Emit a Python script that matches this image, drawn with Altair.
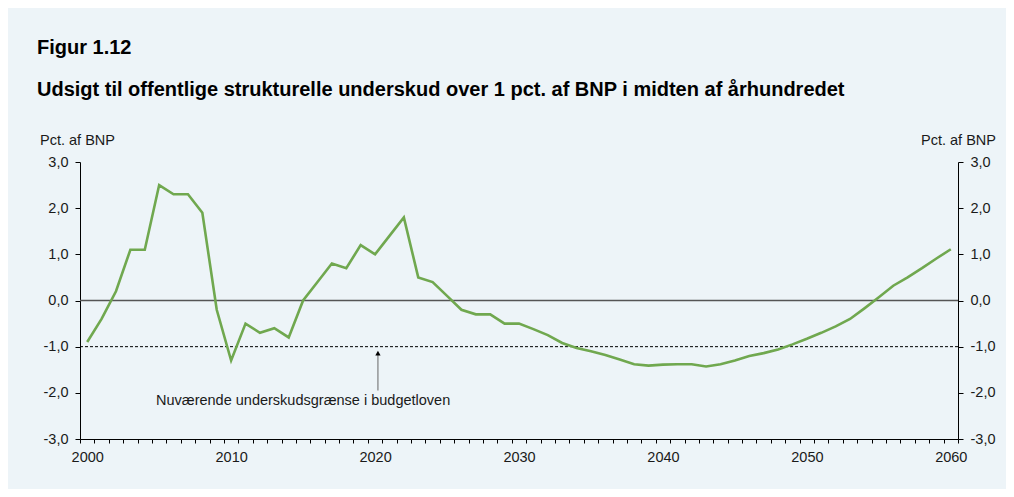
import altair as alt
import pandas as pd

years = list(range(2000, 2061))
values = [
    -0.9, -0.4, 0.2, 1.1, 1.1, 2.5, 2.3, 2.3, 1.9, -0.2,
    -1.3, -0.5, -0.7, -0.6, -0.8, 0.0, 0.4, 0.8, 0.7, 1.2,
    1.0, 1.4, 1.8, 0.5, 0.4, 0.1, -0.2, -0.3, -0.3, -0.5,
    -0.5, -0.62, -0.75, -0.92, -1.03, -1.1, -1.18, -1.28, -1.38, -1.41,
    -1.39, -1.38, -1.38, -1.43, -1.38, -1.3, -1.2, -1.14, -1.06, -0.95,
    -0.83, -0.7, -0.56, -0.4, -0.17, 0.07, 0.32, 0.5, 0.7, 0.91,
    1.11,
]
y_ticks = [-3, -2, -1, 0, 1, 2, 3]
title_text = "Figur 1.12"
subtitle_text = "Udsigt til offentlige strukturelle underskud over 1 pct. af BNP i midten af århundredet"
unit_text = "Pct. af BNP"
note_text = "Nuværende underskudsgrænse i budgetloven"
limit_value = -1.0
note_x = 2015.0
note_y = -2.26
arrow_x = 2020.2
arrow_from = -1.95
arrow_to = -1.14

df = pd.DataFrame({"year": years, "value": values})
one = pd.DataFrame({"k": [0]})

FONT = "Liberation Sans"
TXT = "#1a1a1a"
GREEN = "#70a84f"
FS = 14.5

xscale = alt.Scale(domain=[1999.5, 2060.5], nice=False, zero=False)
yscale = alt.Scale(domain=[-3, 3], nice=False, zero=False)

tick_vals = [y - 0.5 for y in range(2000, 2062)]
x_axis = alt.Axis(
    values=tick_vals,
    labelExpr="((datum.value + 0.5) % 10 == 0) ? format(datum.value + 0.5, 'd') : ''",
    labelOffset=7.2, tickSize=4, labelPadding=7, labelOverlap=False,
    labelFlush=False, labelBound=False, grid=False, domainColor="black",
    tickColor="black", title=None, labelFontSize=FS, labelFont=FONT,
    labelColor=TXT, labelBaseline="top",
)
ylab = "(datum.value < 0 ? '-' : '') + replace(format(abs(datum.value), '.1f'), '.', ',')"


def y_axis(orient):
    return alt.Axis(
        values=y_ticks, orient=orient, labelExpr=ylab, tickSize=5,
        labelPadding=7, grid=False, domainColor="black", tickColor="black",
        title=None, labelFontSize=FS, labelFont=FONT, labelColor=TXT,
    )


def X(field):
    return alt.X(field, scale=xscale, axis=x_axis)


zero_line = alt.Chart(one).mark_rule(color="#555555", strokeWidth=1.5).encode(
    y=alt.Y("z:Q", scale=yscale, axis=None)
).transform_calculate(z="0")

limit_line = alt.Chart(one).mark_rule(color="black", strokeWidth=1, strokeDash=[3, 2]).encode(
    y=alt.Y("z:Q", scale=yscale, axis=None)
).transform_calculate(z=str(limit_value))

line = alt.Chart(df).mark_line(color=GREEN, strokeWidth=2.6).encode(
    x=X("year:Q"), y=alt.Y("value:Q", scale=yscale, axis=y_axis("left"))
)

right_axis = alt.Chart(df).mark_line(opacity=0).encode(
    x=X("year:Q"), y=alt.Y("value:Q", scale=yscale, axis=y_axis("right"))
)

ann = pd.DataFrame({"x": [note_x], "y": [note_y], "t": [note_text],
                    "ax": [arrow_x], "a1": [arrow_from], "a2": [arrow_to]})

note = alt.Chart(ann).mark_text(font=FONT, fontSize=FS, color=TXT, align="center", baseline="alphabetic").encode(
    x=X("x:Q"), y=alt.Y("y:Q", scale=yscale, axis=None), text="t:N"
)
arrow_shaft = alt.Chart(ann).mark_rule(color="#666666", strokeWidth=1).encode(
    x=X("ax:Q"), y=alt.Y("a1:Q", scale=yscale, axis=None), y2="a2:Q"
)
arrow_head = alt.Chart(ann).mark_point(shape="triangle-up", filled=True, color="black", opacity=1, size=28).encode(
    x=X("ax:Q"), y=alt.Y("a2:Q", scale=yscale, axis=None)
)

texts = pd.DataFrame({"title": [title_text], "sub": [subtitle_text], "unit": [unit_text]})
title = alt.Chart(texts).mark_text(font=FONT, fontSize=20, fontWeight="bold", color="black", align="left").encode(
    x=alt.value(-43), y=alt.value(-114), text="title:N"
)
subtitle = alt.Chart(texts).mark_text(font=FONT, fontSize=20, fontWeight="bold", color="black", align="left").encode(
    x=alt.value(-43), y=alt.value(-72), text="sub:N"
)
unit_left = alt.Chart(texts).mark_text(font=FONT, fontSize=FS, color=TXT, align="left").encode(
    x=alt.value(-40), y=alt.value(-21), text="unit:N"
)
unit_right = alt.Chart(texts).mark_text(font=FONT, fontSize=FS, color=TXT, align="right").encode(
    x=alt.value(916), y=alt.value(-21), text="unit:N"
)

chart = alt.layer(
    zero_line, limit_line, line, right_axis, note, arrow_shaft, arrow_head,
    title, subtitle, unit_left, unit_right,
).resolve_scale(y="independent").properties(
    width=878, height=277,
    padding={"left": 72, "top": 154, "right": 48, "bottom": 50},
    autosize=alt.AutoSizeParams(type="none"),
    background="#edf4f8",
).configure_view(stroke=None)

chart.save("out.html", embed_options={"renderer": "svg", "actions": False})
